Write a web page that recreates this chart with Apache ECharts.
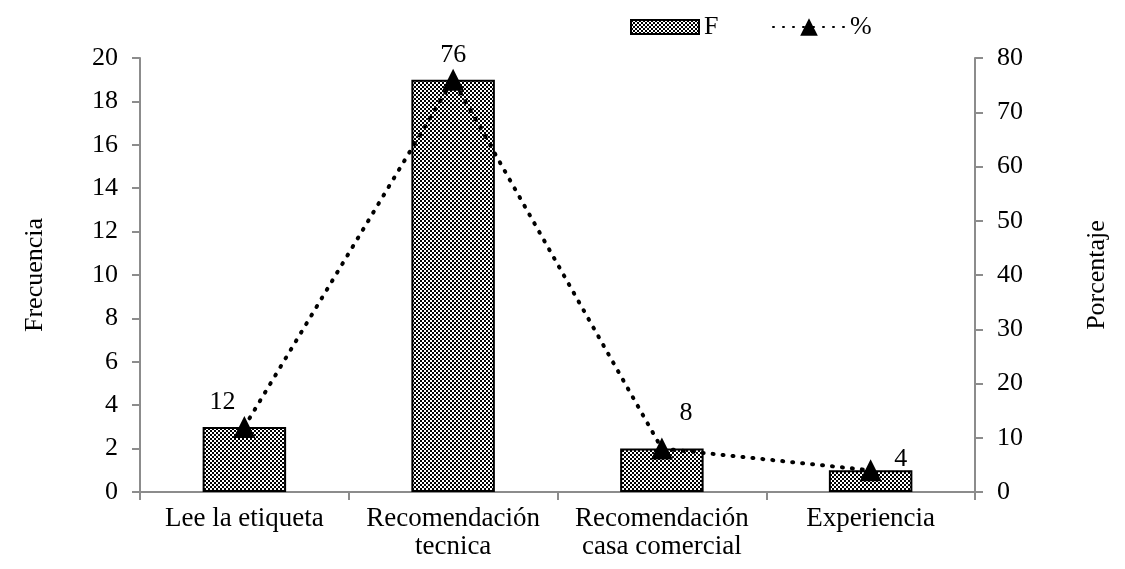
<!DOCTYPE html>
<html>
<head>
<meta charset="utf-8">
<script src="https://cdn.jsdelivr.net/npm/echarts@6/dist/echarts.min.js"></script>
<style>
  html, body { margin: 0; padding: 0; background: #fff; }
  #chart { width: 1125px; height: 569px; }
</style>
</head>
<body>
<div id="chart"></div>
<script>
// datos
const categorias = ['Lee la etiqueta', 'Recomendación\ntecnica', 'Recomendación\ncasa comercial', 'Experiencia'];
const frecuencia = [3, 19, 2, 1];
const porcentaje = [12, 76, 8, 4];

// desplazamiento de las etiquetas del porcentaje
const offsets = [[-22, 4], [0, 4], [24, -6], [30, 18]];

// patrón cuadriculado para las barras
const makePattern = () => {
    const c = document.createElement('canvas');
    c.width = 4; c.height = 4;
    const ctx = c.getContext('2d');
    ctx.fillStyle = '#fff';
    ctx.fillRect(0, 0, 4, 4);
    ctx.fillStyle = '#000';
    ctx.fillRect(0, 0, 2, 2);
    ctx.fillRect(2, 2, 2, 2);
    return c;
};
const pattern = { image: makePattern(), repeat: 'repeat' };

const font = 'Liberation Serif';
const axisGray = '#8c8c8c';
const fs = 26;

const chart = echarts.init(document.getElementById('chart'));

chart.setOption({
    textStyle: { fontFamily: font },
    animation: false,
    grid: { left: 140, right: 150, top: 58, bottom: 77 },
    legend: [
        {
            data: [{ name: 'F', icon: 'rect' }],
            left: 625, top: 9,
            itemWidth: 68, itemHeight: 14,
            itemGap: 4,
            textStyle: { fontFamily: font, fontSize: fs, color: '#000' }
        },
        {
            data: ['%'],
            left: 767, top: 9,
            itemWidth: 72, itemHeight: 22,
            textStyle: { fontFamily: font, fontSize: fs, color: '#000' }
        }
    ],
    xAxis: {
        type: 'category',
        data: categorias,
        axisLine: { lineStyle: { color: axisGray, width: 2 } },
        axisTick: { show: true, interval: 0, length: 8, lineStyle: { color: axisGray, width: 2 } },
        axisLabel: { interval: 0, color: '#000', fontSize: 27, fontFamily: font, margin: 13, lineHeight: 28 }
    },
    yAxis: [
        {
            type: 'value',
            min: 0, max: 20, interval: 2,
            name: 'Frecuencia',
            nameLocation: 'middle',
            nameGap: 92,
            nameTextStyle: { fontFamily: font, fontSize: fs, color: '#000' },
            axisLine: { show: true, lineStyle: { color: axisGray, width: 2 } },
            axisTick: { show: true, length: 8, lineStyle: { color: axisGray, width: 2 } },
            axisLabel: { color: '#000', fontSize: fs, fontFamily: font, margin: 22 },
            splitLine: { show: false }
        },
        {
            type: 'value',
            min: 0, max: 80, interval: 10,
            name: 'Porcentaje',
            nameLocation: 'middle',
            nameGap: 109,
            nameRotate: 90,
            nameTextStyle: { fontFamily: font, fontSize: fs, color: '#000' },
            axisLine: { show: true, lineStyle: { color: axisGray, width: 2 } },
            axisTick: { show: true, length: 8, lineStyle: { color: axisGray, width: 2 } },
            axisLabel: { color: '#000', fontSize: fs, fontFamily: font, margin: 22 },
            splitLine: { show: false }
        }
    ],
    series: [
        {
            name: 'F',
            type: 'bar',
            data: frecuencia,
            barWidth: '40%',
            itemStyle: { color: pattern, borderColor: '#000', borderWidth: 2 }
        },
        {
            name: '%',
            type: 'line',
            yAxisIndex: 1,
            data: porcentaje.map((v, i) => ({
                value: v,
                label: { offset: offsets[i] }
            })),
            symbol: 'triangle',
            symbolSize: 22,
            itemStyle: { color: '#000' },
            lineStyle: { color: '#000', width: 4, type: [1, 9], cap: 'round' },
            label: {
                show: true,
                position: 'top',
                color: '#000',
                fontSize: fs,
                fontFamily: font
            },
            z: 3
        }
    ]
});
</script>
</body>
</html>
